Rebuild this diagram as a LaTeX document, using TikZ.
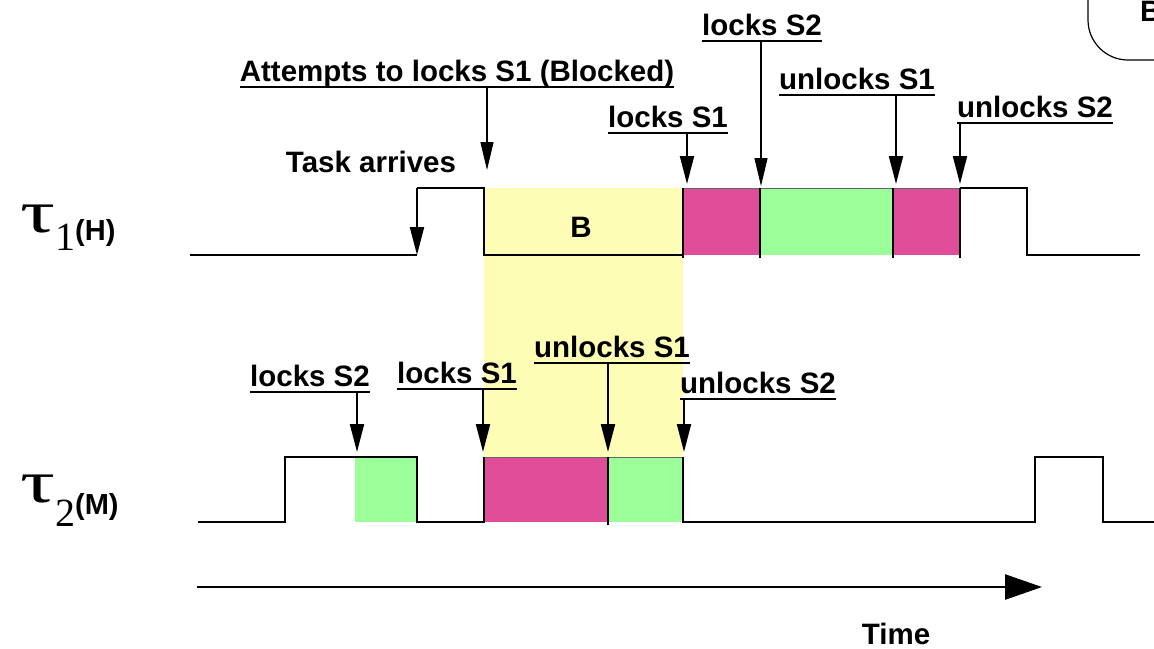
\documentclass[tikz,border=0pt]{standalone}
\usepackage{fontspec}
\setmainfont{Liberation Sans}
\newfontfamily\taufont{Liberation Serif}
\usetikzlibrary{arrows.meta,calc}
\definecolor{yel}{HTML}{FDFDB5}
\definecolor{pnk}{HTML}{E04D99}
\definecolor{grn}{HTML}{9CFE98}
\newcommand\ulnode[1]{\draw[line width=2.6pt] ($(#1.base west)+(0,6)$) -- ($(#1.base east)+(0,6)$); \coordinate (#1u) at ($(#1.base)+(0,6)$);}
\newcommand\taulab[4]{{\taufont\fontsize{60}{60}\selectfont\scalebox{1.45}[1]{τ}}\raisebox{#2}{\taufont\fontsize{40}{40}\selectfont #1}\raisebox{#4}{\bfseries\fontsize{29}{30}\selectfont (#3)}}
\begin{document}
\begin{tikzpicture}[x=1pt,y=-1pt,
  lbl/.style={inner sep=0pt, anchor=base, font=\fontsize{29.5}{30}\selectfont\bfseries},
  sig/.style={line width=2.6pt, line join=miter},
  arr/.style={line width=2pt, -{Triangle[length=28pt,width=14pt]}},
  thinarr/.style={line width=1.2pt, -{Triangle[length=28pt,width=13pt]}},
  tau/.style={inner sep=0pt, anchor=base west},
]
\useasboundingbox (0,0) rectangle (1154,648);

% background yellow blocking region
\fill[yel] (484,188) rectangle (683,457);
% coloured critical sections tau1
\fill[pnk] (683,188) rectangle (760,255);
\fill[grn] (760,188) rectangle (893,255);
\fill[pnk] (893,188) rectangle (960,255);
% tau2
\fill[grn] (355,457) rectangle (417,522);
\fill[pnk] (484,457) rectangle (608,522);
\fill[grn] (608,457) rectangle (683,522);

% thin top lines over sections
\draw[line width=1pt, black!60] (683,188) -- (960,188);
\draw[line width=1pt, black!60] (484,457) -- (683,457);

% tau1 signal
\draw[sig] (190,255) -- (417,255);
\draw[sig] (417,188) -- (484,188) -- (484,255) -- (683,255) -- (683,188);
\draw[line width=2pt] (683,188) -- (683,258);
\draw[line width=2pt] (760,188) -- (760,258);
\draw[line width=2pt] (893,188) -- (893,258);
\draw[line width=2pt] (960,188) -- (960,258);
\draw[sig] (960,188) -- (1027,188) -- (1027,255) -- (1140,255);
\node[lbl] (B) at (581,237) {B};

% tau2 signal
\draw[sig] (198,522) -- (285,522) -- (285,457) -- (417,457) -- (417,522) -- (484,522) -- (484,457);
\draw[line width=2pt] (608,457) -- (608,525);
\draw[sig] (683,457) -- (683,522) -- (1035,522) -- (1035,457) -- (1103,457) -- (1103,522) -- (1154,522);

% tau labels
\node[tau] (t1lab) at (20,232) {\taulab{1}{-18pt}{H}{-8pt}};
\node[tau] (t2lab) at (20,502) {\taulab{2}{-24pt}{M}{-12pt}};

% arrow tips
\coordinate (tA) at (487,170);
\coordinate (tTask) at (417,255);
\coordinate (tL1) at (687,184);
\coordinate (tL2) at (761,186);
\coordinate (tU1) at (896,184);
\coordinate (tU2) at (960,184);
\coordinate (sL2) at (357,452);
\coordinate (sL1) at (483,452);
\coordinate (sU1) at (608,452);
\coordinate (sU2) at (684,452);

% tau1 labels
\node[lbl] (att) at (457,81) {Attempts to locks S1 (Blocked)}; \ulnode{att}
\node[lbl] (task) at (371,172) {Task arrives};
\node[lbl] (al1) at (668,127) {locks S1}; \ulnode{al1}
\node[lbl] (al2) at (762,35) {locks S2}; \ulnode{al2}
\node[lbl] (au1) at (857,89) {unlocks S1}; \ulnode{au1}
\node[lbl] (au2) at (1035,117) {unlocks S2}; \ulnode{au2}

\draw[thinarr] (attu -| tA) -- (tA);
\draw[arr] (417,188) -- (tTask);
\draw[arr] (al1u -| tL1) -- (tL1);
\draw[thinarr] (al2u -| tL2) -- (tL2);
\draw[arr] (au1u -| tU1) -- (tU1);
\draw[arr] (au2u -| tU2) -- (tU2);

% tau2 labels
\node[lbl] (bl2) at (310,386) {locks S2}; \ulnode{bl2}
\node[lbl] (bl1) at (457,383) {locks S1}; \ulnode{bl1}
\node[lbl] (bu1) at (612,357) {unlocks S1}; \ulnode{bu1}
\node[lbl] (bu2) at (758,393) {unlocks S2}; \ulnode{bu2}

\draw[arr] (bl2u -| sL2) -- (sL2);
\draw[arr] (bl1u -| sL1) -- (sL1);
\draw[arr] (bu1u -| sU1) -- (sU1);
\draw[arr] (bu2u -| sU2) -- (sU2);

% time axis
\coordinate (ts) at (197,587);
\coordinate (te) at (1042,587);
\draw[line width=2.6pt, -{Triangle[length=37pt,width=25pt]}] (ts) -- (te);
\node[lbl] (time) at (896,644) {Time};

% legend box (partially visible)
\draw[line width=1.2pt, rounded corners=40pt] (1088,-60) -- (1088,60) -- (1220,60);
\node[inner sep=0pt, anchor=base west, font=\fontsize{29.5}{30}\selectfont\bfseries] (leg) at (1140,21) {B};
\end{tikzpicture}
\end{document}
